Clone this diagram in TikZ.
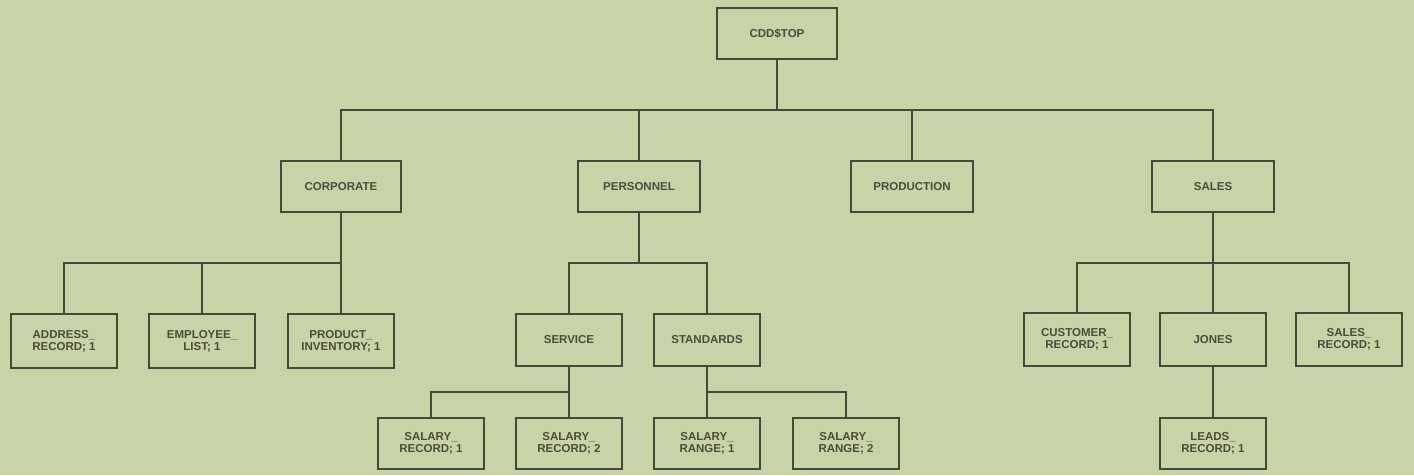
\documentclass[tikz,border=0pt]{standalone}
\usepackage{fontspec}
\setmainfont{Liberation Sans}
\definecolor{bg}{RGB}{200,211,168}
\definecolor{ink}{RGB}{72,72,56}
\definecolor{txt}{RGB}{76,76,58}
\begin{document}
\begin{tikzpicture}[x=1pt,y=-1pt,
  box/.style={draw=ink,line width=2pt,minimum width=#1,minimum height=51pt,inner sep=0pt,
    align=center,text=txt,font=\fontsize{11.5}{12}\selectfont\bfseries},
  box/.default=106pt,
  link/.style={draw=ink,line width=2pt}]
\fill[bg] (0,0) rectangle (1414,475);
\useasboundingbox (0,0) rectangle (1414,475);
% level 0
\node[box=120pt] (top) at (777,33.5) {CDD\$TOP};
% level 1
\node[box=120pt] (corp) at (341,186.5) {CORPORATE};
\node[box=122pt] (pers) at (639,186.5) {PERSONNEL};
\node[box=122pt] (prodn) at (912,186.5) {PRODUCTION};
\node[box=122pt] (sales) at (1213,186.5) {SALES};
% level 2
\node[box, minimum height=54pt] (addr) at (64,341) {ADDRESS\_\\RECORD; 1};
\node[box, minimum height=54pt] (emp) at (202,341) {EMPLOYEE\_\\LIST; 1};
\node[box, minimum height=54pt] (inv) at (341,341) {PRODUCT\_\\INVENTORY; 1};
\node[box, minimum height=52pt] (serv) at (569,340) {SERVICE};
\node[box, minimum height=52pt] (stand) at (707,340) {STANDARDS};
\node[box, minimum height=53pt] (cust) at (1077,339.5) {CUSTOMER\_\\RECORD; 1};
\node[box, minimum height=53pt] (jones) at (1213,339.5) {JONES};
\node[box, minimum height=53pt] (srec) at (1349,339.5) {SALES\_\\RECORD; 1};
% level 3
\node[box] (sr1) at (431,443.5) {SALARY\_\\RECORD; 1};
\node[box] (sr2) at (569,443.5) {SALARY\_\\RECORD; 2};
\node[box] (rg1) at (707,443.5) {SALARY\_\\RANGE; 1};
\node[box] (rg2) at (846,443.5) {SALARY\_\\RANGE; 2};
\node[box] (leads) at (1213,443.5) {LEADS\_\\RECORD; 1};
% buses
\coordinate (b0) at (777,110);
\draw[link] (top.south) -- (b0);
\draw[link] (corp.north) |- (b0) -| (sales.north);
\draw[link] (pers.north) -- (pers.north |- b0);
\draw[link] (prodn.north) -- (prodn.north |- b0);
\coordinate (b1) at (341,263);
\draw[link] (corp.south) -- (b1);
\draw[link] (addr.north) |- (b1) -- (inv.north);
\draw[link] (emp.north) -- (emp.north |- b1);
\coordinate (b2) at (639,263);
\draw[link] (pers.south) -- (b2);
\draw[link] (serv.north) |- (b2) -| (stand.north);
\coordinate (b3) at (1213,263);
\draw[link] (sales.south) -- (b3);
\draw[link] (cust.north) |- (b3) -| (srec.north);
\draw[link] (jones.north) -- (b3);
\coordinate (b4) at (569,392);
\draw[link] (serv.south) -- (sr2.north);
\draw[link] (sr1.north) |- (b4);
\coordinate (b5) at (707,392);
\draw[link] (stand.south) -- (rg1.north);
\draw[link] (b5) -| (rg2.north);
\draw[link] (jones.south) -- (leads.north);
\end{tikzpicture}
\end{document}
